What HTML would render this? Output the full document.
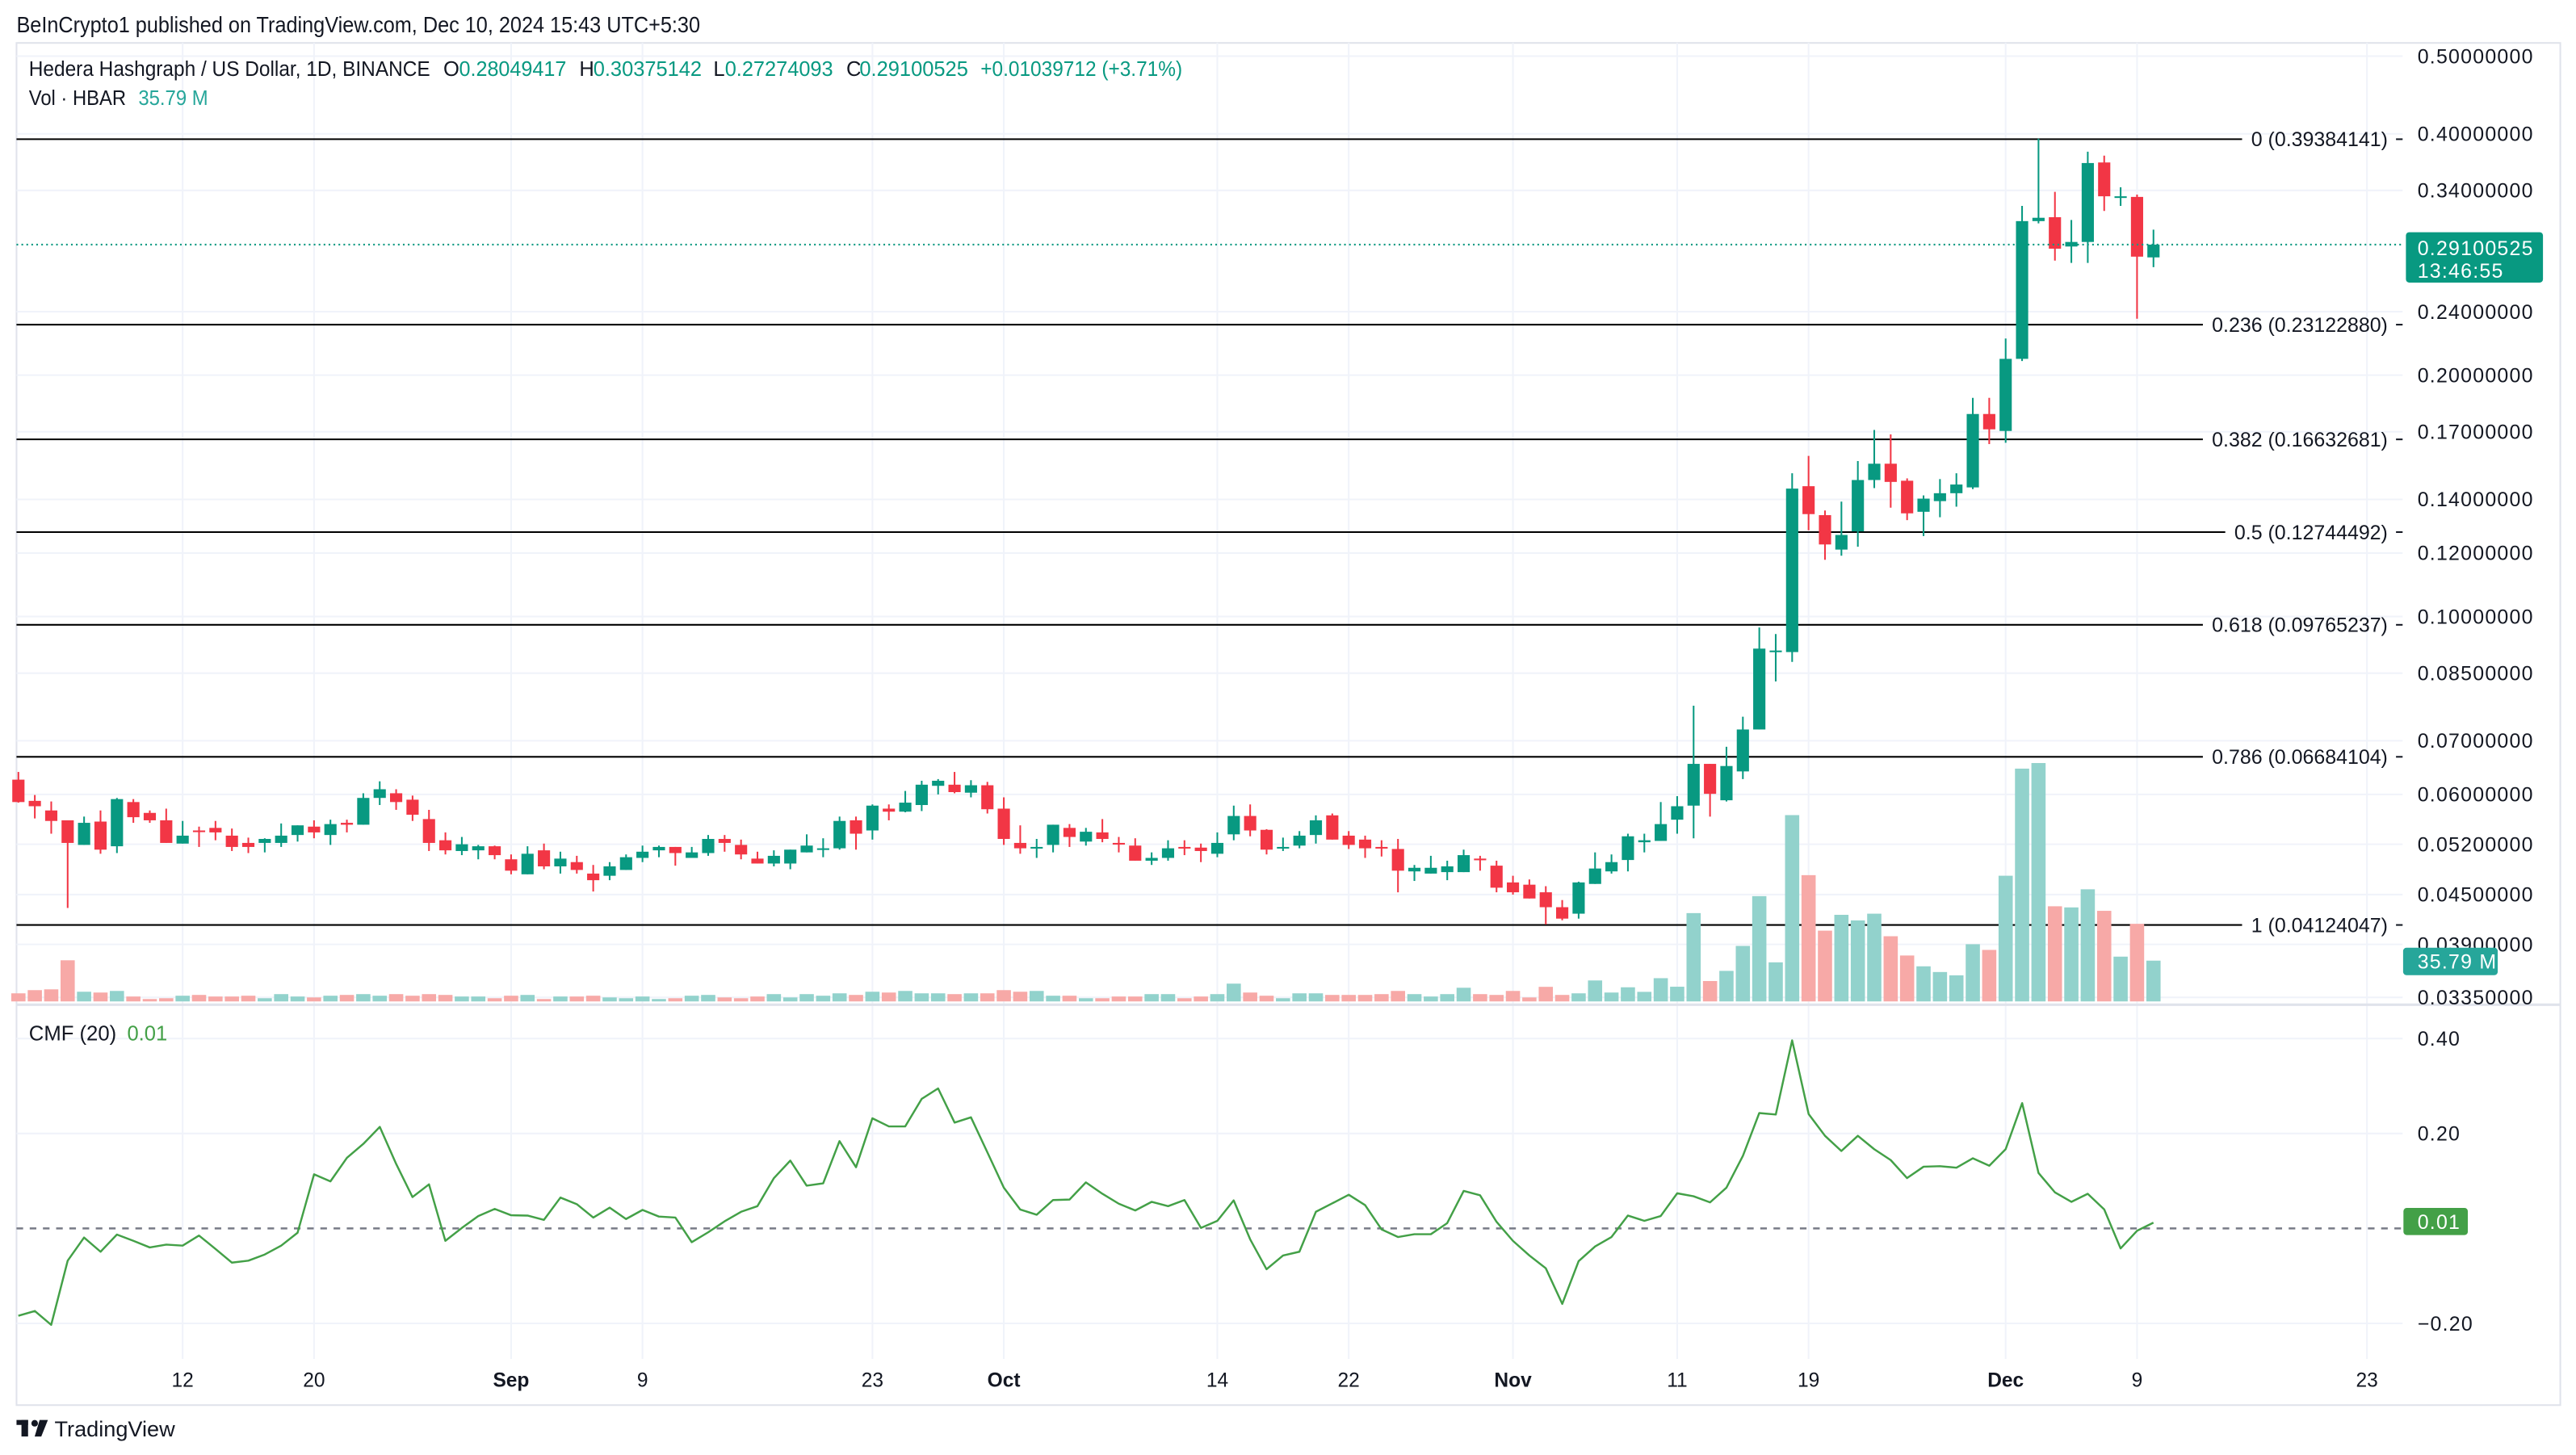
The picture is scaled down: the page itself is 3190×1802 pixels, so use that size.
<!DOCTYPE html>
<html><head><meta charset="utf-8"><style>
html,body{margin:0;padding:0;background:#fff;}
svg{display:block;font-family:"Liberation Sans",Arial,sans-serif;}
</style></head><body>
<svg id="chart" width="3190" height="1802" viewBox="0 0 1560 881.2" xmlns="http://www.w3.org/2000/svg">
<rect x="0" y="0" width="1560" height="881.2" fill="#fff"/>
<text x="10" y="19.5" font-size="13.5" fill="#131722" textLength="414" lengthAdjust="spacingAndGlyphs">BeInCrypto1 published on TradingView.com, Dec 10, 2024 15:43 UTC+5:30</text>
<rect x="10" y="26" width="1540.5" height="825" fill="none" stroke="#e0e3eb" stroke-width="1"/>
<g id="grid"></g>
<g id="fibs"></g>
<g id="vols"></g>
<g id="candles"></g>
<g id="cmf"></g>
<g id="axes"></g>
<g>
<text x="17.5" y="46" font-size="12.5" fill="#131722" textLength="243" lengthAdjust="spacingAndGlyphs">Hedera Hashgraph / US Dollar, 1D, BINANCE</text>
<text x="268.5" y="46" font-size="12.5" fill="#131722">O</text>
<text x="278" y="46" font-size="12.5" fill="#089981" textLength="65" lengthAdjust="spacingAndGlyphs">0.28049417</text>
<text x="350.8" y="46" font-size="12.5" fill="#131722">H</text>
<text x="359.3" y="46" font-size="12.5" fill="#089981" textLength="65.7" lengthAdjust="spacingAndGlyphs">0.30375142</text>
<text x="432" y="46" font-size="12.5" fill="#131722">L</text>
<text x="439" y="46" font-size="12.5" fill="#089981" textLength="65.5" lengthAdjust="spacingAndGlyphs">0.27274093</text>
<text x="512.5" y="46" font-size="12.5" fill="#131722">C</text>
<text x="520.5" y="46" font-size="12.5" fill="#089981" textLength="65.8" lengthAdjust="spacingAndGlyphs">0.29100525</text>
<text x="593.8" y="46" font-size="12.5" fill="#089981" textLength="122.2" lengthAdjust="spacingAndGlyphs">+0.01039712 (+3.71%)</text>
<text x="17.5" y="63.5" font-size="12.5" fill="#131722" textLength="58.8" lengthAdjust="spacingAndGlyphs">Vol · HBAR</text>
<text x="83.8" y="63.5" font-size="12.5" fill="#26a69a" textLength="42.2" lengthAdjust="spacingAndGlyphs">35.79 M</text>
<text x="17.5" y="630" font-size="12.5" fill="#131722" textLength="53" lengthAdjust="spacingAndGlyphs">CMF (20)</text>
<text x="77" y="630" font-size="12.5" fill="#43a047">0.01</text>
</g>
<g>
<rect x="10" y="860" width="7" height="3" fill="#131722"/>
<rect x="13" y="860" width="4" height="10" fill="#131722"/>
<circle cx="21" cy="862" r="2" fill="#131722"/>
<polygon points="24,860 29,860 25,870 21,870" fill="#131722"/>
<text x="33" y="870" font-size="13" fill="#131722" textLength="73" lengthAdjust="spacingAndGlyphs">TradingView</text>
</g>
</svg>
<script>
// ---- data (day index 1 = Aug 2, 2024) ----
const open=[.0626,.0589,.0573,.0557,.0519,.0555,.0517,.0587,.0569,.0557,
.0521,.0541,.0545,.0533,.0522,.0522,.0522,.0534,.0547,.0534,
.0553,.0550,.0594,.0602,.0591,.0559,.0526,.0510,.0511,.0517,
.0498,.0477,.0511,.0488,.0494,.0478,.0475,.0483,.0500,.0511,
.0516,.0500,.0507,.0528,.0519,.0499,.0492,.0492,.0508,.0513,
.0514,.0557,.0541,.0576,.0571,.0582,.0615,.0617,.0603,.0616,
.0576,.0522,.0514,.0519,.0545,.0524,.0538,.0522,.0518,.0496,
.0500,.0516,.0515,.0506,.0535,.0564,.0542,.0514,.0518,.0534,
.0565,.0533,.0527,.0516,.0513,.0481,.0478,.0480,.0480,.0499,
.0489,.0466,.0463,.0453,.0434,.0426,.0464,.0481,.0497,.0523,
.0525,.0558,.0581,.0655,.0590,.0641,.0723,.0903,.0903,.1454,
.1338,.1212,.1277,.1480,.1551,.1477,.1351,.1393,.1425,.1449,
.1789,.1704,.2096,.3113,.3148,.2894,.2932,.3684,.3327,.3337,.2805];
const close=[.0587,.0580,.0556,.0522,.0553,.0512,.0592,.0562,.0557,.0522,
.0533,.0539,.0538,.0516,.0516,.0528,.0533,.0549,.0538,.0551,
.0550,.0594,.0609,.0587,.0566,.0522,.0511,.0520,.0517,.0504,
.0482,.0506,.0488,.0499,.0483,.0469,.0488,.0501,.0509,.0516,
.0507,.0508,.0528,.0522,.0505,.0492,.0503,.0512,.0518,.0514,
.0556,.0536,.0581,.0571,.0586,.0617,.0624,.0604,.0616,.0575,
.0528,.0514,.0516,.0550,.0531,.0539,.0528,.0520,.0496,.0500,
.0514,.0514,.0510,.0522,.0564,.0541,.0512,.0516,.0533,.0557,
.0527,.0519,.0514,.0514,.0482,.0486,.0486,.0488,.0504,.0497,
.0459,.0453,.0445,.0434,.0420,.0466,.0485,.0494,.0532,.0526,
.0551,.0580,.0655,.0601,.0651,.0723,.0912,.0907,.1444,.1342,
.1230,.1264,.1480,.1551,.1472,.1345,.1403,.1425,.1461,.1789,
.1712,.2096,.3113,.3143,.2876,.2932,.3678,.3343,.3343,.2811,.2910];
const high=[.0640,.0599,.0588,.0557,.0563,.0573,.0594,.0592,.0573,.0576,
.0556,.0547,.0556,.0544,.0530,.0529,.0552,.0549,.0557,.0558,
.0558,.0602,.0623,.0609,.0598,.0574,.0538,.0531,.0519,.0518,
.0505,.0517,.0521,.0509,.0503,.0490,.0494,.0505,.0518,.0518,
.0516,.0516,.0534,.0534,.0527,.0509,.0511,.0512,.0535,.0529,
.0563,.0563,.0583,.0583,.0606,.0624,.0627,.0640,.0625,.0622,
.0595,.0549,.0528,.0550,.0551,.0545,.0559,.0531,.0529,.0508,
.0526,.0526,.0521,.0538,.0581,.0583,.0543,.0530,.0540,.0565,
.0568,.0540,.0533,.0526,.0528,.0490,.0503,.0496,.0512,.0503,
.0496,.0475,.0470,.0461,.0443,.0467,.0508,.0505,.0536,.0536,
.0587,.0597,.0774,.0655,.0688,.0750,.0969,.0951,.1509,.1586,
.1356,.1391,.1563,.1709,.1687,.1487,.1416,.1484,.1509,.1874,
.1874,.2222,.3252,.3944,.3386,.3123,.3800,.3757,.3431,.3359,.30375];
const low=[.0586,.0560,.0536,.0433,.0519,.0506,.0507,.0553,.0553,.0522,
.0521,.0516,.0526,.0510,.0507,.0508,.0516,.0524,.0529,.0519,
.0538,.0550,.0582,.0574,.0556,.0510,.0505,.0504,.0498,.0498,
.0477,.0477,.0484,.0478,.0478,.0454,.0469,.0483,.0494,.0501,
.0489,.0501,.0503,.0509,.0498,.0492,.0488,.0484,.0508,.0501,
.0512,.0512,.0527,.0557,.0570,.0572,.0600,.0602,.0595,.0568,
.0519,.0506,.0500,.0508,.0516,.0518,.0523,.0508,.0496,.0490,
.0496,.0504,.0494,.0501,.0526,.0532,.0505,.0510,.0514,.0521,
.0527,.0513,.0500,.0502,.0453,.0468,.0478,.0469,.0480,.0482,
.0453,.0450,.0445,.0413,.0418,.0420,.0464,.0478,.0481,.0508,
.0525,.0536,.0529,.0563,.0588,.0627,.0723,.0830,.0878,.1281,
.1177,.1191,.1222,.1446,.1367,.1319,.1260,.1330,.1371,.1442,
.1641,.1647,.2083,.3093,.2779,.2761,.2761,.3205,.3252,.2352,.27274];
const volume=[7.1,9.9,10.6,36.1,8.5,7.8,9.2,4.3,2.1,2.8,
5.0,5.7,4.3,4.3,5.0,2.8,6.4,4.3,3.5,5.0,
5.7,6.4,5.0,6.4,5.0,6.4,5.7,4.3,4.3,2.8,
5.0,5.7,2.1,4.3,4.3,5.0,3.5,2.8,4.3,2.1,
2.8,5.0,5.7,3.5,2.8,4.3,6.4,3.5,6.4,5.0,
7.1,5.7,8.5,7.8,9.2,7.1,7.1,6.4,7.1,7.1,
9.9,8.5,9.2,5.0,5.0,2.8,2.8,4.3,4.3,6.4,
6.4,2.8,4.3,6.4,15.6,7.8,5.0,2.8,7.1,7.1,
5.7,5.7,5.7,6.4,9.2,6.4,4.3,6.4,12.0,6.4,
5.7,9.2,3.5,12.8,5.7,7.1,18.4,7.8,12.4,8.4,
20.4,12.9,77.5,17.9,26.8,48.7,92.4,34.3,163.5,110.8,
62.1,76.0,71.1,77.0,57.2,40.3,30.8,25.8,22.9,50.2,
45.2,110.3,204.3,209.2,83.5,82.5,98.4,79.5,39.3,68.1,35.79];
const cmf=[-0.184,-0.174,-0.203,-0.068,-0.019,-0.049,-0.013,-0.026,-0.040,-0.034,
-0.036,-0.015,-0.043,-0.072,-0.068,-0.055,-0.036,-0.009,0.114,0.099,
0.149,0.178,0.214,0.136,0.066,0.093,-0.026,0.001,0.026,0.041,
0.028,0.027,0.018,0.065,0.051,0.023,0.044,0.020,0.039,0.025,
0.023,-0.029,-0.008,0.015,0.035,0.047,0.106,0.143,0.090,0.095,
0.184,0.129,0.232,0.215,0.215,0.273,0.295,0.223,0.234,0.160,
0.086,0.040,0.029,0.060,0.061,0.097,0.073,0.052,0.038,0.056,
0.047,0.060,0.001,0.016,0.059,-0.023,-0.086,-0.057,-0.049,0.035,
0.053,0.071,0.049,-0.002,-0.018,-0.012,-0.012,0.011,0.079,0.070,
0.014,-0.026,-0.057,-0.084,-0.159,-0.069,-0.038,-0.018,0.027,0.016,
0.026,0.074,0.068,0.055,0.086,0.153,0.243,0.240,0.396,0.241,
0.195,0.163,0.195,0.167,0.144,0.106,0.130,0.131,0.128,0.148,
0.132,0.167,0.264,0.117,0.076,0.056,0.073,0.040,-0.042,-0.005,0.012];
const priceTicks=[0.5,0.4,0.34,0.24,0.2,0.17,0.14,0.12,0.1,0.085,0.07,0.06,0.052,0.045,0.039,0.0335];
const fibLevels=["0","0.236","0.382","0.5","0.618","0.786","1"];
const fibPrices=[0.39384141,0.23122880,0.16632681,0.12744492,0.09765237,0.06684104,0.04124047];
const cmfTicks=[0.4,0.2,-0.2];
const cmfTickLabels=["0.40","0.20","\u22120.20"];
const timeLabels=["12","20","Sep","9","23","Oct","14","22","Nov","11","19","Dec","9","23"];
const timeDays=[11,19,31,39,53,61,74,82,92,102,110,122,130,144];
const timeBold=[0,0,1,0,0,1,0,0,1,0,0,1,0,0];
const lastPrice=0.29100525, lastVol="35.79 M", lastCmf="0.01";

// ---- axis functions ----
const NS="http://www.w3.org/2000/svg";
const PL=10, PR=1455, VBASE=606.5, SEP=608.5;
function xDay(d){return 110.6+9.946*(d-11);}
function yPrice(p){return 84.3+Math.log(0.39384141/p)*210.9;}
function yVol(v){return VBASE-v/1.449;}
function yCmf(v){return 744-v*287.5;}
function mk(tag,attrs,parent){const e=document.createElementNS(NS,tag);for(const k in attrs)e.setAttribute(k,attrs[k]);parent.appendChild(e);return e;}
const G=id=>document.getElementById(id);

// grid
const grid=G('grid');
timeDays.forEach((d,i)=>{
  const l=mk('line',{x1:xDay(d),x2:xDay(d),y1:26,y2:823,stroke:'#f0f3fa','stroke-width':1},grid);
  
  
});
priceTicks.forEach(p=>{
  const l=mk('line',{x1:PL,x2:PR,y1:yPrice(p),y2:yPrice(p),stroke:'#f0f3fa','stroke-width':1},grid);
  
  
});
cmfTicks.forEach(v=>{
  const l=mk('line',{x1:PL,x2:PR,y1:yCmf(v),y2:yCmf(v),stroke:'#f0f3fa','stroke-width':1},grid);
  
  
});
const sep=mk('line',{x1:PL,x2:1550.5,y1:SEP,y2:SEP,stroke:'#e0e3eb','stroke-width':1.5},grid);



// volumes
const vg=G('vols');
volume.forEach((v,i)=>{
  const d=i+1, up=close[i]>=open[i];
  const r=mk('rect',{x:xDay(d)-4.3,y:yVol(v),width:8.6,height:VBASE-yVol(v),fill:up?'#92d2cc':'#f7a9a7'},vg);
  
  
});

// fib lines
const fg=G('fibs');
fibPrices.forEach((p,i)=>{
  const y=yPrice(p);
  const t=mk('text',{x:1446,y:y+4.3,'font-size':12.2,fill:'#131722','text-anchor':'end'},fg);
  t.textContent=fibLevels[i]+' ('+p.toFixed(8)+')';
  
  
  let w=t.getComputedTextLength?t.getComputedTextLength():100;
  const l=mk('line',{x1:PL,x2:1446-w-5.5,y1:y,y2:y,stroke:'#000','stroke-width':1},fg);
  
  
  const dsh=mk('line',{x1:1451,x2:1455,y1:y,y2:y,stroke:'#131722','stroke-width':1},fg);
  
  
});

// candles
const cg=G('candles');
open.forEach((o,i)=>{
  const d=i+1,c=close[i],up=c>=o,col=up?'#089981':'#f23645',x=xDay(d);
  const w=mk('line',{x1:x,x2:x,y1:yPrice(high[i]),y2:yPrice(low[i]),stroke:col,'stroke-width':1},cg);
  
  
  const top=Math.min(yPrice(o),yPrice(c)),h=Math.max(1,Math.abs(yPrice(o)-yPrice(c)));
  const b=mk('rect',{x:x-3.7,y:top,width:7.4,height:h,fill:col},cg);
  
  
});
const lp=mk('line',{x1:PL,x2:PR,y1:yPrice(lastPrice),y2:yPrice(lastPrice),stroke:'#089981','stroke-width':1,'stroke-dasharray':'1 2'},cg);



// cmf
const mg=G('cmf');
const z=mk('line',{x1:PL,x2:PR,y1:yCmf(0),y2:yCmf(0),stroke:'#787b86','stroke-width':1.2,'stroke-dasharray':'4 4'},mg);


const pts=cmf.map((v,i)=>xDay(i+1).toFixed(1)+','+yCmf(v).toFixed(1)).join(' ');
const pl=mk('polyline',{points:pts,fill:'none',stroke:'#43a047','stroke-width':1.2,'stroke-linejoin':'round'},mg);



// axes
const ag=G('axes');
priceTicks.forEach(p=>{
  const t=mk('text',{x:1464,y:yPrice(p)+4.3,'font-size':12.2,fill:'#131722','letter-spacing':0.6},ag);
  t.textContent=p.toFixed(8);
  
  
});
cmfTicks.forEach((v,i)=>{
  const t=mk('text',{x:1464,y:yCmf(v)+4.3,'font-size':12.2,fill:'#131722','letter-spacing':0.6},ag);
  t.textContent=cmfTickLabels[i];
  
  
});
timeLabels.forEach((s,i)=>{
  const t=mk('text',{x:xDay(timeDays[i]),y:840,'font-size':12,fill:'#131722','text-anchor':'middle','font-weight':timeBold[i]?'bold':'normal'},ag);
  t.textContent=s;
  
  
});
// price badge
const py=yPrice(lastPrice);
const pb=mk('rect',{x:1457,y:py-7.5,width:83,height:30.5,rx:2,fill:'#089981'},ag);


const pt1=mk('text',{x:1464,y:py+6.5,'font-size':12.2,fill:'#fff','letter-spacing':0.6},ag);
pt1.textContent=lastPrice.toFixed(8);


const pt2=mk('text',{x:1464,y:py+20,'font-size':12.2,fill:'#fff','letter-spacing':0.6},ag);
pt2.textContent='13:46:55';


const vb=mk('rect',{x:1455.3,y:574,width:57.3,height:16.6,rx:2,fill:'#26a69a'},ag);


const vt=mk('text',{x:1464,y:586.7,'font-size':12.2,fill:'#fff','letter-spacing':0.6},ag);
vt.textContent=lastVol;


const cy=yCmf(0);
const cb=mk('rect',{x:1455.5,y:cy-12.4,width:39,height:16.4,rx:2,fill:'#43a047'},ag);


const ct=mk('text',{x:1464,y:cy+0.3,'font-size':12.2,fill:'#fff','letter-spacing':0.6},ag);
ct.textContent=lastCmf;


</script>
</body></html>
